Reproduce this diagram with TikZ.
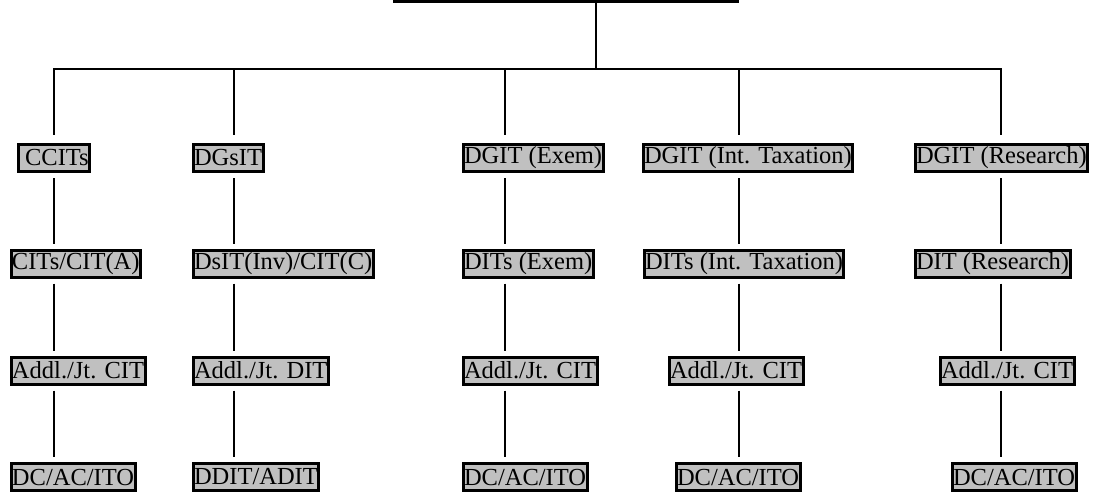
\documentclass[tikz,border=0pt]{standalone}
\usepackage{fontspec}
\setmainfont{Liberation Serif}
\usepackage{xcolor}
\definecolor{boxgray}{RGB}{192, 192, 192}
\tikzset{
  post/.style = {draw, fill = boxgray, line width = 3pt, anchor = west,
    inner xsep = 1pt, inner ysep = 0pt, minimum height = 27pt,
    font = \fontsize{24.5}{28}\selectfont},
  headbox/.style = {draw, line width = 3pt, minimum width = 343pt, minimum height = 40pt},
  link/.style = {line width = 1.6pt}
}

\begin{document}
\begin{tikzpicture}[x = 1pt, y = -1pt]
\useasboundingbox (0,0) rectangle (1094,491);
\node[headbox] (head) at (566,-18.5) {};
\coordinate (hub) at (596,69);
% first column
\node[post] (a1) at (16.5,158) {\ CCITs};
\node[post] (a2) at (9.5,263.5) {CITs/CIT(A)};
\node[post] (a3) at (9.5,370.5) {Addl./Jt. CIT};
\node[post] (a4) at (9.5,477) {DC/AC/ITO};
% second column
\node[post] (b1) at (191.5,158) {DGsIT};
\node[post] (b2) at (191.5,263.5) {DsIT(Inv)/CIT(C)};
\node[post] (b3) at (191.5,370.5) {Addl./Jt. DIT};
\node[post] (b4) at (191.5,477) {DDIT/ADIT};
% third column
\node[post] (c1) at (461.5,158) {DGIT (Exem)};
\node[post] (c2) at (461.5,263.5) {DITs (Exem)};
\node[post] (c3) at (461.5,370.5) {Addl./Jt. CIT};
\node[post] (c4) at (461.5,477) {DC/AC/ITO};
% fourth column
\node[post] (d1) at (641.5,158) {DGIT (Int. Taxation)};
\node[post] (d2) at (642.5,263.5) {DITs (Int. Taxation)};
\node[post] (d3) at (667.5,370.5) {Addl./Jt. CIT};
\node[post] (d4) at (674.5,477) {DC/AC/ITO};
% fifth column
\node[post] (e1) at (913.5,158) {DGIT (Research)};
\node[post] (e2) at (913.5,263.5) {DIT (Research)};
\node[post] (e3) at (938.5,370.5) {Addl./Jt. CIT};
\node[post] (e4) at (950.5,477) {DC/AC/ITO};

\draw[link] (head.south -| hub) -- (hub);
\foreach \c/\x in {a/54,b/234,c/505,d/739,e/1001}
{
\coordinate (\c0) at (\x,69);
\draw[link, shorten >= 8pt] (\c0) -- (\c1.north -| \c0);
\foreach \r/\s in {1/2,2/3,3/4}
  \draw[link, shorten <= 5pt, shorten >= 5pt] (\c\r.south -| \c0) -- (\c\s.north -| \c0);
}
\draw[link] ([xshift = -1pt]a0) -- ([xshift = 1pt]e0);
\end{tikzpicture}
\end{document}
